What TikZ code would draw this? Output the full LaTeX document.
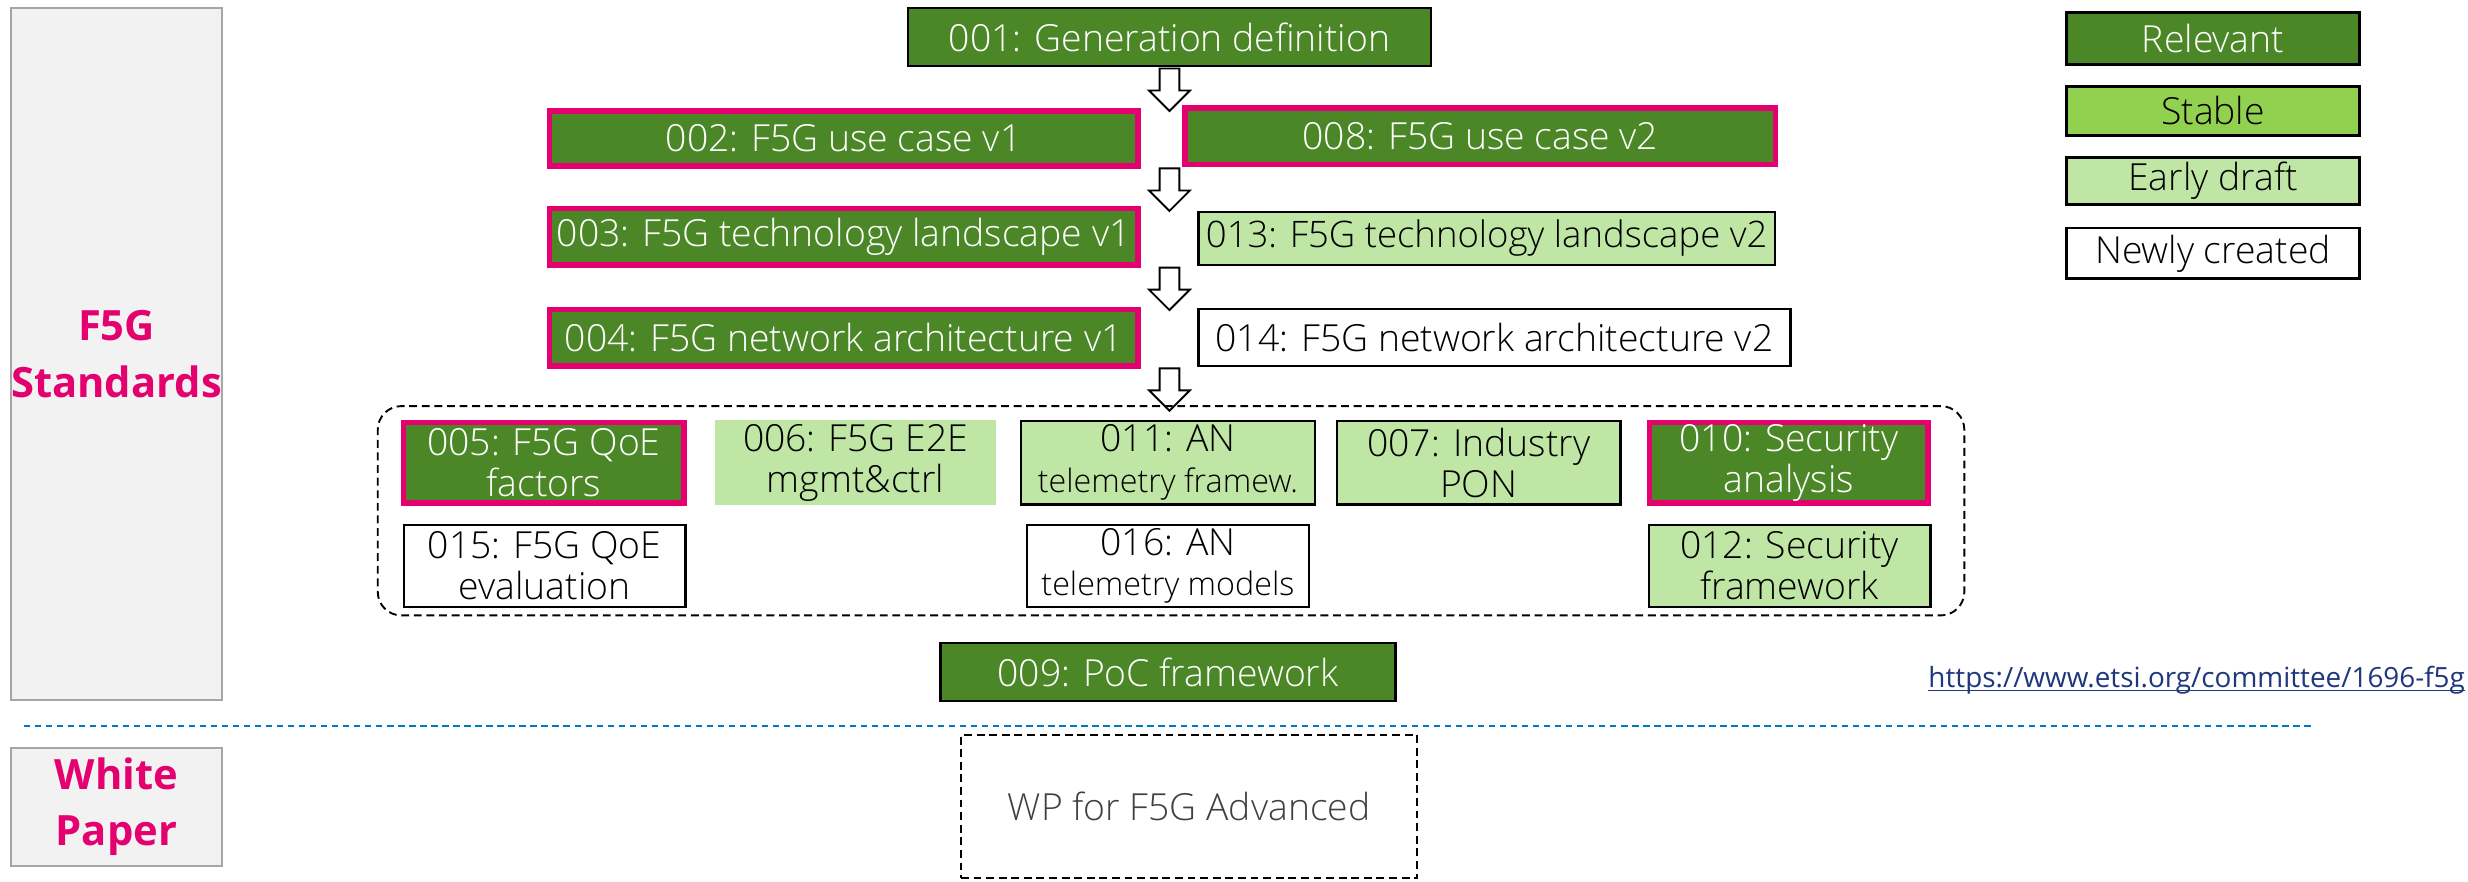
\documentclass[tikz,border=0pt]{standalone}
\usepackage{fontspec}
\IfFontExistsTF{Open Sans Light}{\setmainfont{Open Sans Light}}{\setmainfont{Open Sans}}
\newfontfamily\headfont{Open Sans}
\newfontfamily\urlfont{Open Sans}
\definecolor{relgreen}{RGB}{75,135,38}
\definecolor{stablegreen}{RGB}{146,208,80}
\definecolor{earlygreen}{RGB}{192,230,165}
\definecolor{f5gpink}{RGB}{228,0,110}
\definecolor{sidefill}{RGB}{242,242,242}
\definecolor{sidegrey}{RGB}{166,166,166}
\definecolor{sepblue}{RGB}{0,120,200}
\definecolor{urlblue}{RGB}{30,55,125}
\newcommand{\smtxt}{\fontsize{20.5}{24}\selectfont}
\tikzset{
  relbox/.style={draw=black, line width=1.5pt, fill=relgreen, text=white},
  pinkbox/.style={draw=f5gpink, line width=3.5pt, fill=relgreen, text=white},
  stablebox/.style={draw=black, line width=1.5pt, fill=stablegreen},
  earlybox/.style={draw=black, line width=1.5pt, fill=earlygreen},
  newbox/.style={draw=black, line width=1.5pt, fill=white},
  sidebox/.style={draw=sidegrey, line width=1.2pt, fill=sidefill, text=f5gpink,
    font=\headfont\bfseries\fontsize{26.5}{36}\selectfont},
  blockdown/.pic={\draw[fill=white, line width=1.2pt] (-6.25,1.5) -- (6.25,1.5) -- (6.25,15.5)
    -- (13,15.5) -- (0,28.5) -- (-13,15.5) -- (-6.25,15.5) -- cycle;}
}
\begin{document}
\begin{tikzpicture}[x=1pt, y=-1pt, every node/.style={inner sep=0pt, outer sep=0pt, align=center,
    font=\fontsize{23.7}{26}\selectfont}]
  \useasboundingbox (0,0) rectangle (1568,560);
  % side labels
  \node[sidebox, minimum width=134, minimum height=440] (std) at (74,225) {F5G\\Standards};
  \node[sidebox, minimum width=134, minimum height=75] (wpl) at (74,512.5) {White\\Paper};
  % main chain
  \node[relbox, minimum width=332, minimum height=37] (g001) at (743,23.5) {001: Generation definition};
  \node[pinkbox, minimum width=374, minimum height=35] (g002) at (536,88) {002: F5G use case v1};
  \node[pinkbox, minimum width=375, minimum height=36] (g008) at (940.5,86.5) {008: F5G use case v2};
  \node[pinkbox, minimum width=374, minimum height=36] (g003) at (536,150.5) {003: F5G technology landscape v1};
  \node[earlybox, minimum width=366, minimum height=34, font=\fontsize{23.2}{26}\selectfont] (g013)
    at (944.5,151.5) {013: F5G technology landscape v2};
  \node[pinkbox, minimum width=374, minimum height=36] (g004) at (536,214.5) {004: F5G network architecture v1};
  \node[newbox, minimum width=376, minimum height=36] (g014) at (949.5,214.5) {014: F5G network architecture v2};
  \pic at (g001.south) {blockdown};
  \pic at (g001.south |- g002.south) {blockdown};
  \pic at (g001.south |- g003.south) {blockdown};
  \pic at (g001.south |- g004.south) {blockdown};
  % group of parallel items
  \node[draw, dashed, line width=1.2pt, dash pattern=on 5pt off 3pt, rounded corners=15pt,
    minimum width=1008, minimum height=133] (grp) at (744,324.5) {};
  \node[pinkbox, minimum width=178, minimum height=51] (g005) at (345.5,294) {005: F5G QoE\\factors};
  \node[fill=earlygreen, minimum width=179, minimum height=54] (g006) at (543.5,294) {006: F5G E2E\\mgmt\&ctrl};
  \node[earlybox, minimum width=187, minimum height=53] (g011) at (742,294) {011: AN\\{\smtxt telemetry framew.}};
  \node[earlybox, minimum width=180, minimum height=53] (g007) at (939.5,294) {007: Industry\\PON};
  \node[pinkbox, minimum width=177, minimum height=51] (g010) at (1136.5,294) {010: Security\\analysis};
  \node[newbox, minimum width=179, minimum height=52] (g015) at (346,359.5) {015: F5G QoE\\evaluation};
  \node[newbox, minimum width=179, minimum height=52] (g016) at (742,359.5) {016: AN\\{\smtxt telemetry models}};
  \node[earlybox, minimum width=179, minimum height=52] (g012) at (1137,359.5) {012: Security\\framework};
  \node[relbox, minimum width=289, minimum height=37] (g009) at (742,427) {009: PoC framework};
  % legend
  \node[relbox, minimum width=186, minimum height=33] (lrel) at (1406,24.5) {Relevant};
  \node[stablebox, minimum width=186, minimum height=31] (lsta) at (1406,70.5) {Stable};
  \node[earlybox, minimum width=186, minimum height=30] (lear) at (1406,115) {Early draft};
  \node[newbox, minimum width=186, minimum height=32] (lnew) at (1406,161) {Newly created};
  % link
  \node[anchor=east, text=urlblue, font=\urlfont\fontsize{17.7}{22}\selectfont] (url) at (1566,432)
    {https://www.etsi.org/committee/1696-f5g};
  \draw[urlblue, line width=1pt] ([yshift=-2pt]url.base west) -- ([yshift=-2pt]url.base east);
  % separator
  \coordinate (sepl) at (15,461);
  \coordinate (sepr) at (1470,461);
  \draw[sepblue, line width=1.3pt, dash pattern=on 4pt off 3pt] (sepl) -- (sepr);
  % white paper
  \node[draw, line width=1.2pt, dash pattern=on 5pt off 3pt, text=black!75, minimum width=290,
    minimum height=91] (wp) at (755.5,512.5) {WP for F5G Advanced};
\end{tikzpicture}
\end{document}
